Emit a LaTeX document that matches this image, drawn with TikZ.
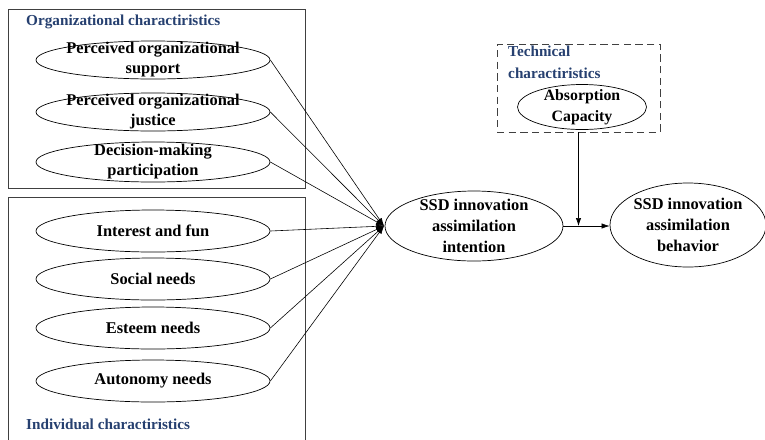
\documentclass[tikz,border=0pt]{standalone}
\usepackage{fontspec}
\setmainfont{Liberation Serif}
\usetikzlibrary{shapes.geometric}
\usetikzlibrary{arrows.meta}
\definecolor{charblue}{RGB}{38,64,112}

\begin{document}
\begin{tikzpicture}[x=0.03cm,y=-0.03cm,
    oval/.style={draw,ellipse,inner sep=0pt,line width=0.6pt},
    lbl/.style={align=center,inner sep=0pt,font=\fontsize{14}{17}\selectfont\bfseries},
    title/.style={anchor=west,align=left,inner sep=0pt,text=charblue,font=\fontsize{13}{19}\selectfont\bfseries},
    frame/.style={draw=black!75,line width=0.8pt},
    link/.style={line width=0.5pt,-{Latex[length=2.4mm,width=1.6mm]}}]
    \clip (0,0) rectangle (765,439);

    % draw group frames
    \draw[frame] (8,9) rectangle (305,188);
    \draw[frame] (8,197) rectangle (305,450);
    \node[frame,dashed,dash pattern=on 2.2mm off 1.3mm,minimum width=4.89cm,minimum height=2.64cm] (techbox) at (578.5,88) {};

    % draw group titles
    \node[title] (orgtitle) at (26,22) {Organizational charactiristics};
    \node[title] (indtitle) at (26,424) {Individual charactiristics};
    \node[title] (techtitle) at (508,62) {Technical\\charactiristics};

    % draw organizational factors
    \node[oval,minimum width=7.02cm,minimum height=1.14cm,label={[lbl]center:{Perceived organizational\\support}}] (pos) at (153,60) {};
    \node[oval,minimum width=7.02cm,minimum height=1.14cm,label={[lbl]center:{Perceived organizational\\justice}}] (poj) at (153,112) {};
    \node[oval,minimum width=7.02cm,minimum height=1.2cm,label={[lbl]center:{Decision-making\\participation}}] (dmp) at (153,162) {};

    % draw individual factors
    \node[oval,minimum width=7.02cm,minimum height=1.26cm,label={[lbl]center:{Interest and fun}}] (iaf) at (153,231) {};
    \node[oval,minimum width=7.02cm,minimum height=1.26cm,label={[lbl]center:{Social needs}}] (scn) at (153,279) {};
    \node[oval,minimum width=7.02cm,minimum height=1.26cm,label={[lbl]center:{Esteem needs}}] (esn) at (153,328) {};
    \node[oval,minimum width=7.02cm,minimum height=1.26cm,label={[lbl]center:{Autonomy needs}}] (aun) at (153,381) {};

    % draw moderator and outcomes
    \node[oval,minimum width=3.87cm,minimum height=1.35cm,label={[lbl,font=\fontsize{13.5}{18}\selectfont\bfseries]center:{Absorption\\Capacity}}] (absorb) at (582,107) {};
    \node[oval,minimum width=5.34cm,minimum height=2.1cm,label={[lbl,font=\fontsize{14}{18}\selectfont\bfseries]center:{SSD innovation\\assimilation\\intention}}] (intent) at (474,226) {};
    \node[oval,minimum width=4.68cm,minimum height=2.52cm,label={[lbl,font=\fontsize{14}{18}\selectfont\bfseries]center:{SSD innovation\\assimilation\\behavior}}] (behav) at (688,225) {};

    % draw connectors
    \coordinate (hub) at (384,226);
    \foreach \n in {pos,poj,dmp,iaf,scn,esn,aun}
        \draw[link] (\n.east) -- (hub);
    \draw[link] (intent.east) -- (intent.east -| behav.west);
    \draw[link] (techbox.south) -- (techbox.south |- intent.east);
\end{tikzpicture}
\end{document}
